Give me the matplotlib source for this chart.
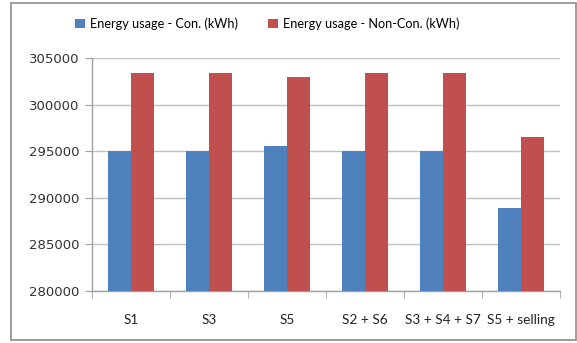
import numpy as np
import matplotlib.pyplot as plt
from matplotlib.patches import Rectangle

categories = ['S1', 'S3', 'S5', 'S2 + S6', 'S3 + S4 + S7', 'S5 + selling']
con = [295000, 295000, 295550, 295000, 295000, 288900]
non_con = [303400, 303400, 303000, 303400, 303400, 296550]
yticks = [280000, 285000, 290000, 295000, 300000, 305000]

blue = '#4f81bd'
red = '#c0504d'
grey = '#a0a0a0'

fig = plt.figure(figsize=(5.77, 3.43), dpi=100)
ax = fig.add_axes([92 / 577, 1 - 290.7 / 343, (560 - 92) / 577, (290.7 - 58.3) / 343])

x = np.arange(len(categories))
w = 0.29
ax.bar(x - w / 2, con, w, color=blue, label='Energy usage - Con. (kWh)', zorder=3)
ax.bar(x + w / 2, non_con, w, color=red, label='Energy usage - Non-Con. (kWh)', zorder=3)

ax.set_xlim(-0.5, len(categories) - 0.5)
ax.set_ylim(280000, 305000)
ax.set_yticks(yticks)
ax.set_yticklabels([str(v) for v in yticks], fontsize=9.5, color='#333333', family='DejaVu Sans')
ax.grid(axis='y', color='#c0c0c0', linewidth=1, zorder=0)

ax.set_xticks(x)
ax.set_xticklabels(categories, fontsize=9.8, family='Lato', color='#222222')
ax.tick_params(axis='x', length=0, pad=17)
# category boundary ticks
ax.set_xticks(np.arange(len(categories) + 1) - 0.5, minor=True)
ax.tick_params(axis='x', which='minor', length=5, color=grey, direction='out')
ax.tick_params(axis='y', length=5, color=grey, pad=4)

for s in ['top', 'right']:
    ax.spines[s].set_visible(False)
for s in ['left', 'bottom']:
    ax.spines[s].set_color(grey)
    ax.spines[s].set_linewidth(1)

ax.legend(loc='center left', bbox_to_anchor=(64 / 577, 1 - 24 / 343), bbox_transform=fig.transFigure,
          ncol=2, frameon=False,
          prop={'family': 'Lato', 'size': 9.1}, handlelength=0.75, handleheight=0.75,
          columnspacing=2.4, handletextpad=0.4)

# chart border
fig.patches.append(Rectangle((11 / 577, 1 - 340 / 343), (576 - 11) / 577, (340 - 3) / 343,
                             transform=fig.transFigure, fill=False, edgecolor='#8c8c8c',
                             linewidth=1.2))

fig.savefig('out.png', dpi=100)
